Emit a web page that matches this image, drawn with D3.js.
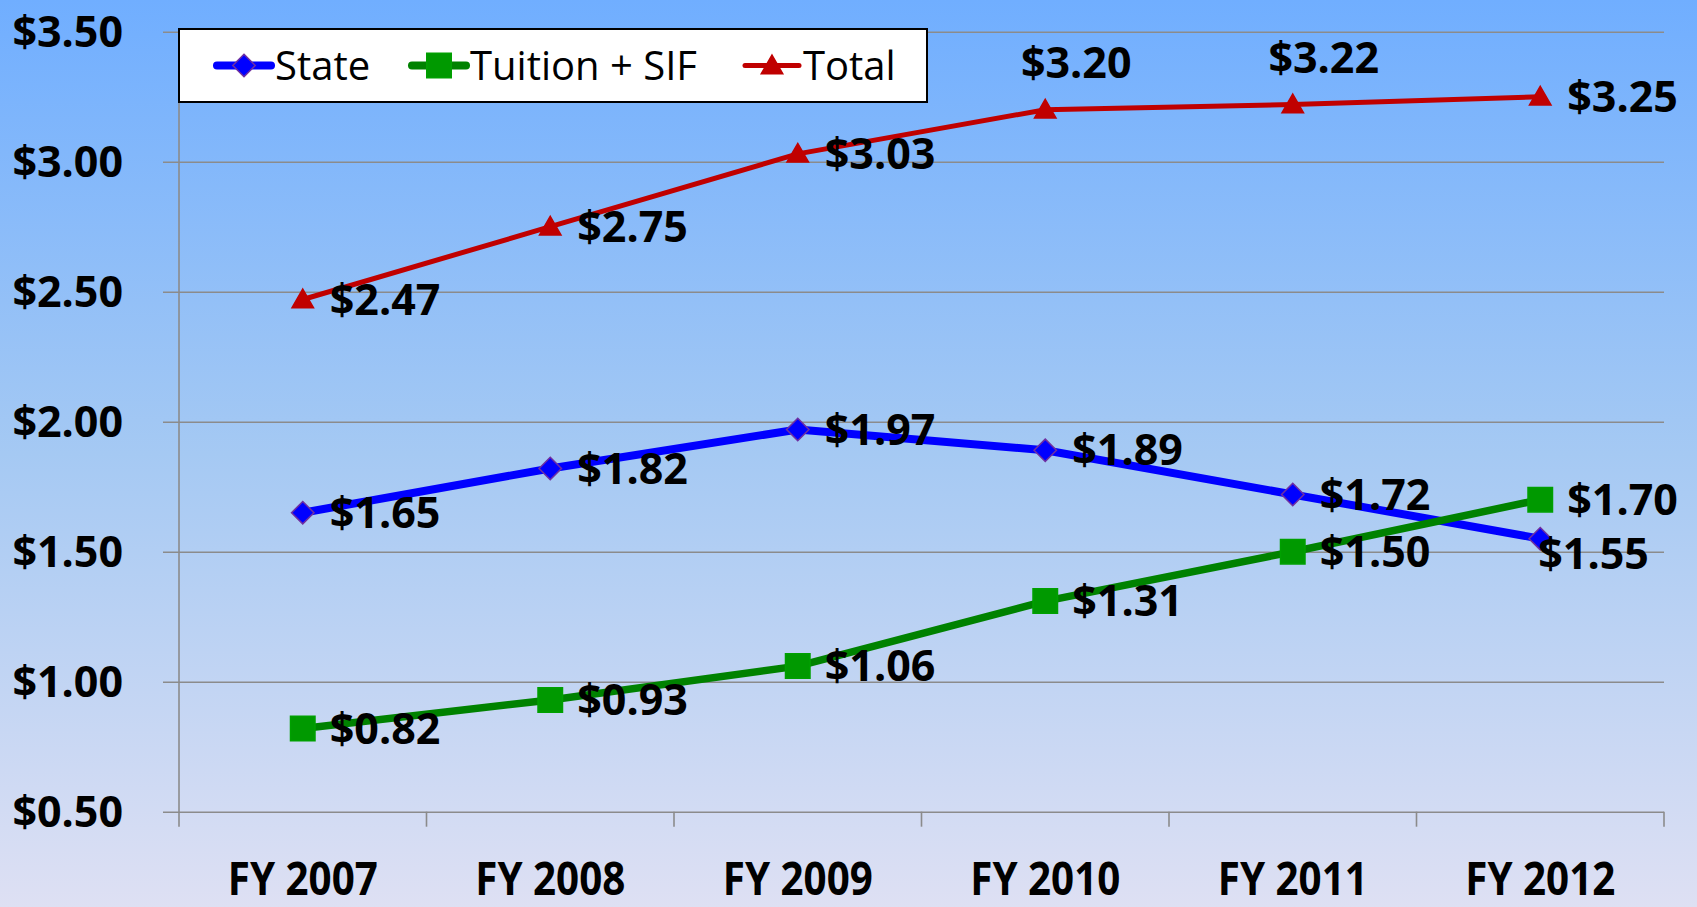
<!DOCTYPE html>
<html>
<head>
<meta charset="utf-8">
<script src="https://cdn.jsdelivr.net/npm/d3@7"></script>
<style>
  html, body { margin: 0; padding: 0; overflow: hidden; }
  svg { display: block; }
</style>
</head>
<body>
<svg id="chart"></svg>
<script>
var width = 1697;
var height = 907;

// data
var categories = ["FY 2007", "FY 2008", "FY 2009", "FY 2010", "FY 2011", "FY 2012"];
var stateValues = [1.65, 1.82, 1.97, 1.89, 1.72, 1.55];
var tuitionValues = [0.82, 0.93, 1.06, 1.31, 1.50, 1.70];
var totalValues = [2.47, 2.75, 3.03, 3.20, 3.22, 3.25];
var yTicks = [0.5, 1.0, 1.5, 2.0, 2.5, 3.0, 3.5];
var seriesNames = ["State", "Tuition + SIF", "Total"];
// where Excel put each data label
var stateLabelPos = ["right", "right", "right", "right", "right", "below"];
var tuitionLabelPos = ["right", "right", "right", "right", "right", "right"];
var totalLabelPos = ["right", "right", "right", "above", "above", "right"];

var plotLeft = 179;
var plotRight = 1664;
var plotTop = 31.7;
var plotBottom = 811.7;

var svg = d3.select("#chart").attr("width", width).attr("height", height);

// background gradient
var defs = svg.append("defs");
var grad = defs.append("linearGradient")
  .attr("id", "bg")
  .attr("x1", 0).attr("y1", 0).attr("x2", 0).attr("y2", 1);
grad.append("stop").attr("offset", "0%").attr("stop-color", "#70aeff");
grad.append("stop").attr("offset", "50%").attr("stop-color", "#a5c9f3");
grad.append("stop").attr("offset", "100%").attr("stop-color", "#dee0f3");
svg.append("rect")
  .attr("width", width).attr("height", height)
  .attr("fill", "url(#bg)");

var xScale = d3.scaleBand()
  .domain(categories)
  .range([plotLeft, plotRight])
  .paddingInner(0)
  .paddingOuter(0);
var cx = (c) => xScale(c) + xScale.bandwidth() / 2;

var yScale = d3.scaleLinear()
  .domain([0.5, 3.5])
  .range([plotBottom, plotTop]);

var money = d3.format("$.2f");

// Y AXIS + gridlines (ticks stick out 16px to the left)
var yAxis = d3.axisLeft(yScale)
  .tickValues(yTicks)
  .tickSize(plotRight - plotLeft + 16)
  .tickFormat("");
var yg = svg.append("g")
  .attr("transform", `translate(${plotRight}, 0)`)
  .call(yAxis);
yg.select(".domain").remove();
yg.selectAll(".tick line")
  .attr("stroke", "#8b8b8b")
  .attr("stroke-width", 1.6);

// y labels
svg.append("g")
  .selectAll("text")
  .data(yTicks)
  .enter()
  .append("text")
  .attr("x", 123)
  .attr("y", (d) => yScale(d) + 15.5)
  .attr("text-anchor", "end")
  .style("font-family", "'Open Sans', 'DejaVu Sans', sans-serif")
  .style("font-weight", 700)
  .style("font-size", "43px")
  .attr("fill", "#000")
  .text((d) => money(d));

// vertical axis line
svg.append("line")
  .attr("x1", plotLeft).attr("x2", plotLeft)
  .attr("y1", yScale(3.5)).attr("y2", plotBottom + 15)
  .attr("stroke", "#8b8b8b")
  .attr("stroke-width", 1.6);

// X AXIS tick marks at category boundaries
var boundaries = categories.map((c) => xScale(c)).concat([xScale.range()[1]]);
svg.append("g")
  .selectAll("line")
  .data(boundaries.slice(1))
  .enter()
  .append("line")
  .attr("x1", (d) => d).attr("x2", (d) => d)
  .attr("y1", plotBottom).attr("y2", plotBottom + 15)
  .attr("stroke", "#8b8b8b")
  .attr("stroke-width", 1.6);

// x labels
svg.append("g")
  .selectAll("text")
  .data(categories)
  .enter()
  .append("text")
  .attr("x", (d) => cx(d))
  .attr("y", 895)
  .attr("text-anchor", "middle")
  .attr("textLength", 150)
  .attr("lengthAdjust", "spacingAndGlyphs")
  .style("font-family", "'Open Sans', 'DejaVu Sans', sans-serif")
  .style("font-weight", 700)
  .style("font-size", "46px")
  .attr("fill", "#000")
  .text((d) => d);

// marker shapes
function markerPath(kind, size) {
  if (kind === "diamond") return d3.symbol().type(d3.symbolDiamond2).size(size)();
  if (kind === "square") return d3.symbol().type(d3.symbolSquare).size(size)();
  return d3.symbol().type(d3.symbolTriangle).size(size)();
}

var series = [
  { name: seriesNames[0], values: stateValues, pos: stateLabelPos, color: "#0000ff", width: 8,
    marker: "diamond", msize: 320, mfill: "#0000ff", mstroke: "#7030a0" },
  { name: seriesNames[1], values: tuitionValues, pos: tuitionLabelPos, color: "#008200", width: 7.5,
    marker: "square", msize: 600, mfill: "#009900", mstroke: "#00a000" },
  { name: seriesNames[2], values: totalValues, pos: totalLabelPos, color: "#c00000", width: 5,
    marker: "triangle", msize: 200, mfill: "#c00000", mstroke: "#c00000" }
];

var line = d3.line()
  .x((d, i) => cx(categories[i]))
  .y((d) => yScale(d));

series.forEach(function (s) {
  svg.append("path")
    .datum(s.values)
    .attr("d", line)
    .attr("fill", "none")
    .attr("stroke", s.color)
    .attr("stroke-width", s.width)
    .attr("stroke-linejoin", "round")
    .attr("stroke-linecap", "round");

  svg.append("g")
    .selectAll("path")
    .data(s.values)
    .enter()
    .append("path")
    .attr("d", markerPath(s.marker, s.msize))
    .attr("transform", (d, i) => `translate(${cx(categories[i])}, ${yScale(d) + (s.marker === "triangle" ? 2 : 0)})`)
    .attr("fill", s.mfill)
    .attr("stroke", s.mstroke)
    .attr("stroke-width", 1.5);
});

// data labels on top
series.forEach(function (s) {
  svg.append("g")
    .selectAll("text")
    .data(s.values)
    .enter()
    .append("text")
    .attr("x", function (d, i) {
      var px = cx(categories[i]);
      if (s.pos[i] === "above") return px + 31;
      if (s.pos[i] === "below") return px - 2;
      return px + 27;
    })
    .attr("y", function (d, i) {
      var py = yScale(d);
      if (s.pos[i] === "above") return py - 32;
      if (s.pos[i] === "below") return py + 30;
      return py + 15;
    })
    .attr("text-anchor", (d, i) => (s.pos[i] === "above" ? "middle" : "start"))
    .style("font-family", "'Open Sans', 'DejaVu Sans', sans-serif")
    .style("font-weight", 700)
    .style("font-size", "43px")
    .attr("fill", "#000")
    .text((d) => money(d));
});

// LEGEND
var legend = svg.append("g");
legend.append("rect")
  .attr("x", 179).attr("y", 29)
  .attr("width", 748).attr("height", 73)
  .attr("fill", "#fff")
  .attr("stroke", "#000")
  .attr("stroke-width", 2);

var legendX = [215, 410, 743];
var legendY = 65.5;
series.forEach(function (s, i) {
  var x0 = legendX[i];
  legend.append("line")
    .attr("x1", x0 + 2).attr("x2", x0 + 56)
    .attr("y1", legendY).attr("y2", legendY)
    .attr("stroke", s.color)
    .attr("stroke-width", s.width === 5 ? 5 : 8)
    .attr("stroke-linecap", "round");
  legend.append("path")
    .attr("d", markerPath(s.marker, s.msize))
    .attr("transform", `translate(${x0 + 29}, ${legendY + (s.marker === "triangle" ? 2 : 0)})`)
    .attr("fill", s.mfill)
    .attr("stroke", s.mstroke)
    .attr("stroke-width", 1.5);
  legend.append("text")
    .attr("x", x0 + 60)
    .attr("y", 80)
    .style("font-family", "'Open Sans', 'DejaVu Sans', sans-serif")
    .style("font-size", "40px")
    .attr("fill", "#000")
    .text(s.name);
});
</script>
</body>
</html>
